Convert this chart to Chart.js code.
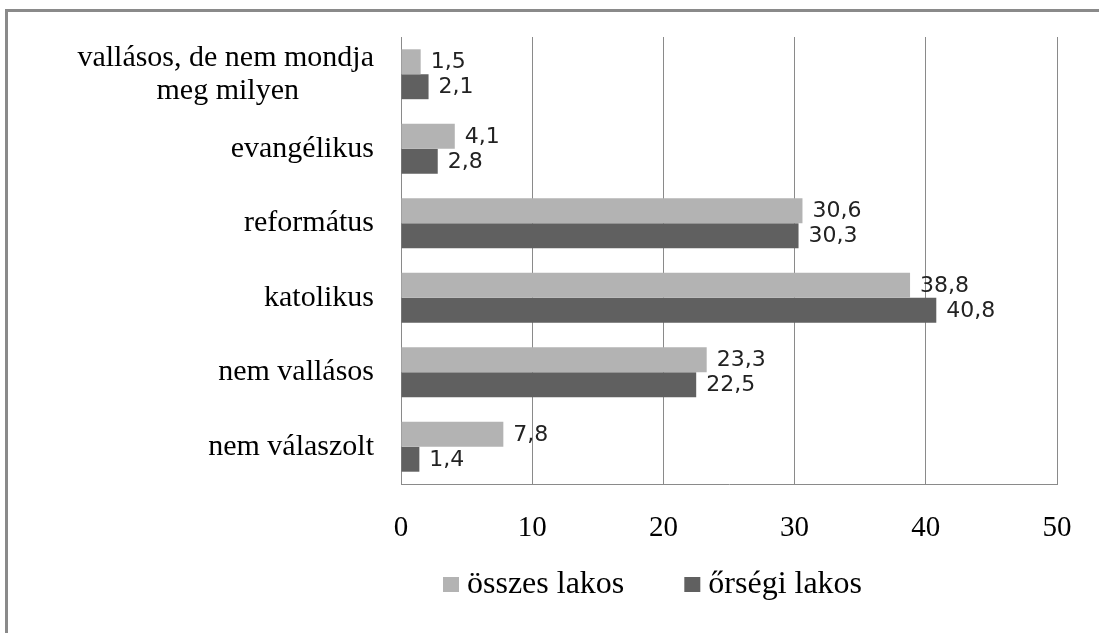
<!DOCTYPE html>
<html>
<head>
<meta charset="utf-8">
<script src="https://cdn.jsdelivr.net/npm/chart.js@4.4.1/dist/chart.umd.min.js"></script>
<style>
  html, body { margin: 0; padding: 0; background: #fff; overflow: hidden; }
  #frame { position: absolute; left: 5px; top: 9px; width: 1200px; height: 700px;
           border-top: 3px solid #8a8a8a; border-left: 3px solid #8a8a8a; }
  #wrap { position: absolute; left: 0; top: 0; width: 1099px; height: 633px; }
</style>
</head>
<body>
<div id="frame"></div>
<div id="wrap"><canvas id="chart"></canvas></div>
<script>
// categories top to bottom (second line of the first one padded so it sits centred)
const categories = [
  ['vallásos, de nem mondja', 'meg milyen\u00a0\u00a0\u00a0\u00a0\u00a0\u00a0\u00a0\u00a0\u00a0\u00a0'],
  'evangélikus',
  'református',
  'katolikus',
  'nem vallásos',
  'nem válaszolt'
];
const osszesLakos = [1.5, 4.1, 30.6, 38.8, 23.3, 7.8];
const orsegiLakos = [2.1, 2.8, 30.3, 40.8, 22.5, 1.4];
const xTicks = [0, 10, 20, 30, 40, 50];

const serif = '"Liberation Serif", "Times New Roman", serif';

// value labels to the right of each bar, Excel style "30,6"
const barLabels = {
  id: 'barLabels',
  afterDatasetsDraw(chart) {
    const ctx = chart.ctx;
    ctx.save();
    ctx.font = '22px "DejaVu Sans", sans-serif';
    ctx.fillStyle = '#222';
    ctx.textAlign = 'left';
    ctx.textBaseline = 'middle';
    chart.data.datasets.forEach((ds, i) => {
      chart.getDatasetMeta(i).data.forEach((bar, j) => {
        const txt = String(ds.data[j]).replace('.', ',');
        ctx.fillText(txt, bar.x + 10, bar.y + 1);
      });
    });
    ctx.restore();
  }
};

// legend under the axis, a bit right of the plot's left edge like the Excel original
const bottomLegend = {
  id: 'bottomLegend',
  afterDraw(chart) {
    const ctx = chart.ctx;
    const area = chart.chartArea;
    ctx.save();
    ctx.font = '32px ' + serif;
    ctx.textAlign = 'left';
    ctx.textBaseline = 'middle';
    let x = area.left + 42;
    const y = area.bottom + 101;
    chart.data.datasets.forEach((ds) => {
      ctx.fillStyle = ds.backgroundColor;
      ctx.fillRect(x, y - 8, 16, 15);
      ctx.fillStyle = '#000';
      ctx.fillText(ds.label, x + 24, y);
      x += 24 + ctx.measureText(ds.label).width + 60;
    });
    ctx.restore();
  }
};

new Chart(document.getElementById('chart'), {
  type: 'bar',
  data: {
    labels: categories,
    datasets: [
      { label: 'összes lakos', data: osszesLakos, backgroundColor: '#b3b3b3' },
      { label: 'őrségi lakos', data: orsegiLakos, backgroundColor: '#606060' }
    ]
  },
  options: {
    indexAxis: 'y',
    responsive: true, maintainAspectRatio: false,
    animation: false,
    datasets: { bar: { barPercentage: 1, categoryPercentage: 0.67 } },
    layout: { padding: { top: 37, right: 42, left: 0, bottom: 87 } },
    scales: {
      x: {
        min: 0, max: 50,
        afterBuildTicks: (s) => { s.ticks = xTicks.map(v => ({ value: v })); },
        afterFit: (s) => { s.height = 62; },
        grid: { color: '#8a8a8a', drawTicks: false },
        border: { display: true, color: '#8a8a8a' },
        ticks: { color: '#000', padding: 27, font: { family: serif, size: 29 } }
      },
      y: {
        afterFit: (s) => { s.width = 401; s.paddingTop = 0; s.paddingBottom = 0; },
        grid: { display: false, drawTicks: false },
        border: { display: true, color: '#8a8a8a' },
        ticks: { color: '#000', padding: 27, font: { family: serif, size: 30, lineHeight: 1.1 } }
      }
    },
    plugins: {
      tooltip: { enabled: false },
      legend: { display: false }
    }
  },
  plugins: [barLabels, bottomLegend]
});
</script>
</body>
</html>
